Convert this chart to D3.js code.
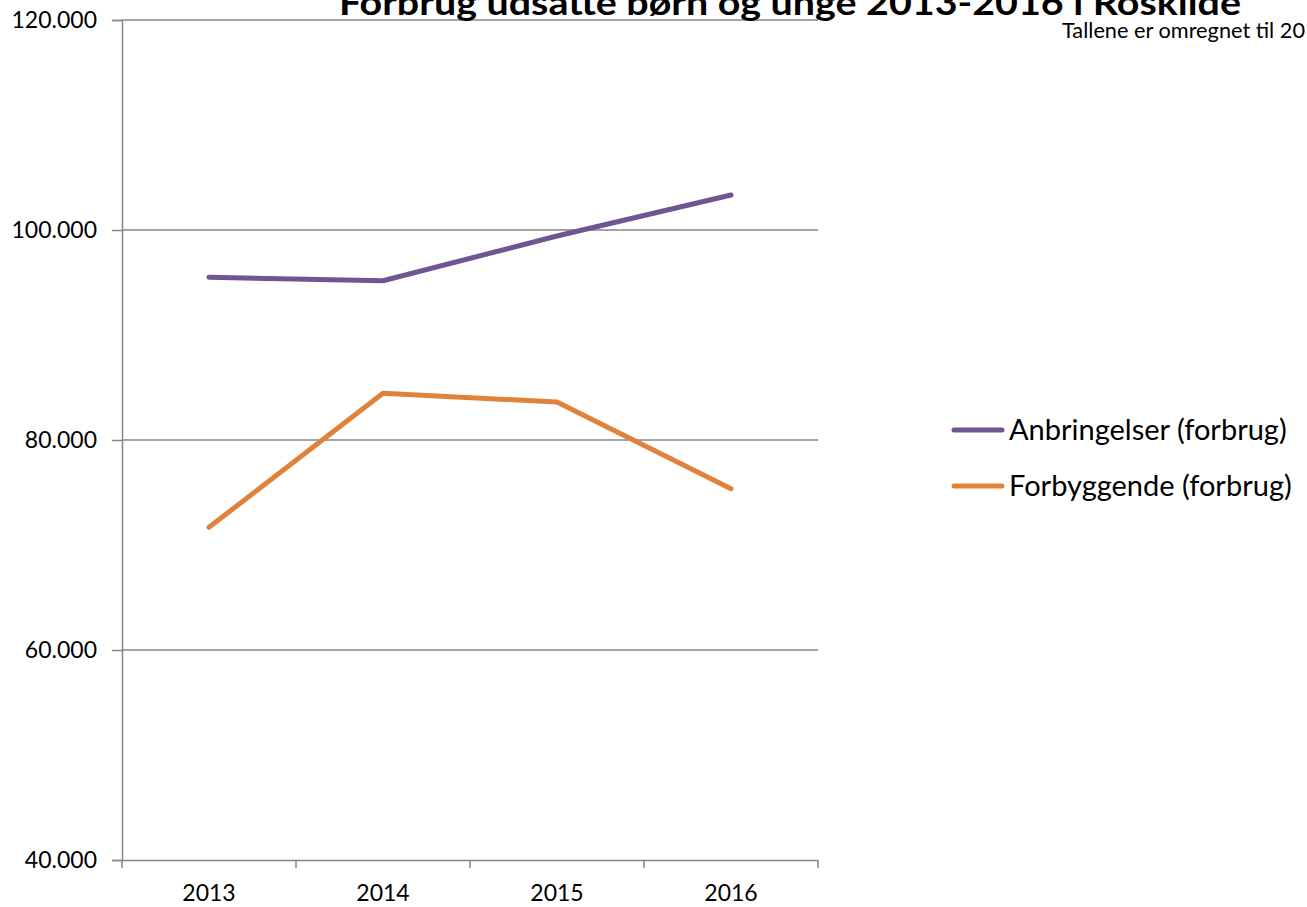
<!DOCTYPE html>
<html>
<head>
<meta charset="utf-8">
<script src="https://cdn.jsdelivr.net/npm/d3@7"></script>
<style>
  html, body { margin: 0; padding: 0; background: #fff; overflow: hidden; }
  svg { display: block; font-family: Lato, "Open Sans", sans-serif; }
</style>
</head>
<body>
<svg id="chart" width="1307" height="907"></svg>
<script>
const categories = ["2013", "2014", "2015", "2016"];
const anbringelser = [95500, 95170, 99430, 103330];
const forbyggende = [71690, 84450, 83620, 75360];
const seriesNames = ["Anbringelser (forbrug)", "Forbyggende (forbrug)"];
const yTicks = [40000, 60000, 80000, 100000, 120000];
const titleText = "Forbrug udsatte børn og unge 2013-2016 i Roskilde";
const subtitleText = "Tallene er omregnet til 20";

(function () {
const colors = ["#6f5592", "#e0823a"];
const svg = d3.select("#chart");
const mLeft = 122, mRight = 818, mTop = 20, mBottom = 860;

const x = d3.scaleBand().domain(categories).range([mLeft, mRight]);
const y = d3.scaleLinear().domain([40000, 120000]).range([mBottom, mTop]);
const fmt = v => d3.format(",")(v).replace(/,/g, ".");

// gridlines
svg.append("g").selectAll("line").data(yTicks.filter(t => t > 40000)).join("line")
  .attr("x1", mLeft).attr("x2", mRight)
  .attr("y1", d => y(d)).attr("y2", d => y(d))
  .attr("stroke", "#868686").attr("stroke-width", 1.5);

// y axis
const yAxis = svg.append("g").attr("transform", `translate(${mLeft},0)`)
  .call(d3.axisLeft(y).tickValues(yTicks).tickFormat(fmt).tickSize(10).tickPadding(15));
yAxis.select(".domain").attr("stroke", "#868686").attr("stroke-width", 1.5);
yAxis.selectAll(".tick line").attr("stroke", "#868686").attr("stroke-width", 1.5);
yAxis.selectAll(".tick text").attr("font-size", 23).attr("fill", "#000")
  .attr("font-family", "Lato, sans-serif");

// x axis
const xAxis = svg.append("g").attr("transform", `translate(0,${mBottom})`)
  .call(d3.axisBottom(x).tickSize(0).tickPadding(25));
xAxis.select(".domain").attr("stroke", "#868686").attr("stroke-width", 1.5);
xAxis.selectAll(".tick text").attr("font-size", 23).attr("fill", "#000")
  .attr("font-family", "Lato, sans-serif");
const bounds = categories.map(c => x(c)).concat([mRight]);
xAxis.append("g").selectAll("line").data(bounds).join("line")
  .attr("x1", d => d).attr("x2", d => d).attr("y1", 0).attr("y2", 8)
  .attr("stroke", "#868686").attr("stroke-width", 1.5);

// lines
const line = d3.line().x((d, i) => x(categories[i]) + x.bandwidth() / 2).y(d => y(d));
[anbringelser, forbyggende].forEach((s, i) => {
  svg.append("path").datum(s).attr("d", line)
    .attr("fill", "none").attr("stroke", colors[i]).attr("stroke-width", 5)
    .attr("stroke-linecap", "round").attr("stroke-linejoin", "round");
});

// legend
const lg = svg.append("g");
seriesNames.forEach((n, i) => {
  const yy = 430 + i * 56;
  lg.append("line").attr("x1", 954).attr("x2", 1002).attr("y1", yy).attr("y2", yy)
    .attr("stroke", colors[i]).attr("stroke-width", 5).attr("stroke-linecap", "round");
  lg.append("text").attr("x", 1009).attr("y", yy + 10).attr("font-size", 29)
    .attr("fill", "#000").text(n);
});

// title
svg.append("text").attr("x", 790).attr("y", 15).attr("text-anchor", "middle")
  .attr("font-size", 34).attr("font-weight", "bold").attr("fill", "#000")
  .attr("textLength", 902).attr("lengthAdjust", "spacingAndGlyphs")
  .text(titleText);
svg.append("text").attr("x", 1062).attr("y", 38).attr("font-size", 21)
  .attr("fill", "#000").attr("textLength", 243).attr("lengthAdjust", "spacingAndGlyphs")
  .text(subtitleText);
})();
</script>
</body>
</html>
